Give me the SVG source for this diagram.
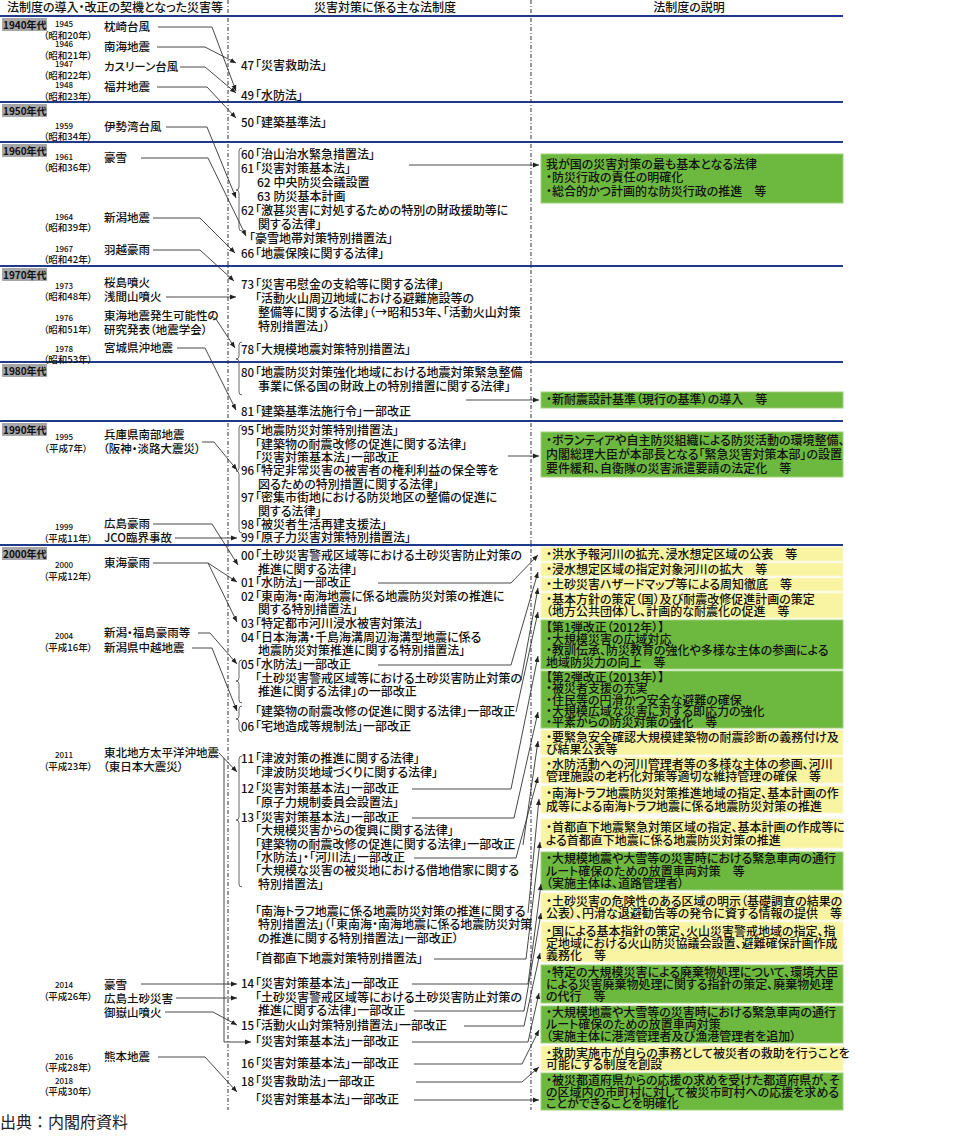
<svg xmlns="http://www.w3.org/2000/svg" width="963" height="1136" viewBox="0 0 963 1136">
<style>
text{font-family:"Noto Sans CJK JP","Noto Sans CJK SC",sans-serif;fill:#111;font-feature-settings:"palt";font-weight:500}
.h{font-size:12px;text-anchor:middle}
.n{font-size:11.5px}
.m{font-size:12px}
.num{font-size:11.5px}
.d{font-size:12px}
.yr{font-size:8px;text-anchor:middle}
.er{font-size:9.5px;text-anchor:middle}
.dec{font-size:10px;font-weight:bold}
.decbox{fill:#A6A6A6}
.hl{stroke:#1F3A8A;stroke-width:2}
.vd{stroke:#333;stroke-width:1;stroke-dasharray:4 2 1 2}
.g{fill:#6DB83F;stroke:#9FD27A;stroke-width:1}
.y{fill:#F9F4A1;stroke:#FBF8CC;stroke-width:1}
.br{fill:none;stroke:#555;stroke-width:0.9}
.c{fill:none;stroke:#333;stroke-width:0.9;marker-end:url(#ah)}
.src{font-size:16px;fill:#222;font-feature-settings:normal;font-weight:normal}
</style>
<defs>
<marker id="ah" viewBox="0 0 6 6" refX="6" refY="3" markerWidth="6" markerHeight="6" markerUnits="userSpaceOnUse" orient="auto"><path d="M0,0.5 L6,3 L0,5.5 z" fill="#222"/></marker>
</defs>
<rect width="963" height="1136" fill="#fff"/>
<g id="header">
<text class="h" x="115" y="12">法制度の導入・改正の契機となった災害等</text>
<text class="h" x="385" y="12">災害対策に係る主な法制度</text>
<text class="h" x="689" y="12">法制度の説明</text>
</g>
<g id="grid">
<line class="hl" x1="0" y1="16" x2="843" y2="16"/>
<line class="hl" x1="0" y1="102" x2="843" y2="102"/>
<line class="hl" x1="0" y1="142" x2="843" y2="142"/>
<line class="hl" x1="0" y1="266" x2="843" y2="266"/>
<line class="hl" x1="0" y1="362" x2="843" y2="362"/>
<line class="hl" x1="0" y1="421" x2="843" y2="421"/>
<line class="hl" x1="0" y1="545" x2="843" y2="545"/>
<line class="vd" x1="228" y1="0" x2="228" y2="1110"/>
<line class="vd" x1="531" y1="0" x2="531" y2="1110"/>
</g>
<g id="decades">
<g id="dec-1940"><rect class="decbox" x="2" y="18" width="45" height="13"/><text class="dec" x="3" y="28.5">1940年代</text></g>
<g id="dec-1950"><rect class="decbox" x="2" y="104" width="45" height="13"/><text class="dec" x="3" y="114.5">1950年代</text></g>
<g id="dec-1960"><rect class="decbox" x="2" y="144" width="45" height="13"/><text class="dec" x="3" y="154.5">1960年代</text></g>
<g id="dec-1970"><rect class="decbox" x="2" y="268" width="45" height="13"/><text class="dec" x="3" y="278.5">1970年代</text></g>
<g id="dec-1980"><rect class="decbox" x="2" y="364" width="45" height="13"/><text class="dec" x="3" y="374.5">1980年代</text></g>
<g id="dec-1990"><rect class="decbox" x="2" y="423" width="45" height="13"/><text class="dec" x="3" y="433.5">1990年代</text></g>
<g id="dec-2000"><rect class="decbox" x="2" y="547" width="45" height="13"/><text class="dec" x="3" y="557.5">2000年代</text></g>
</g>
<g id="years">
<text class="yr" x="64" y="27">1945</text><text class="er" x="68" y="39">（昭和20年）</text>
<text class="yr" x="64" y="47">1946</text><text class="er" x="68" y="59">（昭和21年）</text>
<text class="yr" x="64" y="67">1947</text><text class="er" x="68" y="79">（昭和22年）</text>
<text class="yr" x="64" y="88">1948</text><text class="er" x="68" y="100">（昭和23年）</text>
<text class="yr" x="64" y="129">1959</text><text class="er" x="68" y="140">（昭和34年）</text>
<text class="yr" x="64" y="160">1961</text><text class="er" x="68" y="171">（昭和36年）</text>
<text class="yr" x="64" y="220">1964</text><text class="er" x="68" y="231">（昭和39年）</text>
<text class="yr" x="64" y="252">1967</text><text class="er" x="68" y="263">（昭和42年）</text>
<text class="yr" x="64" y="289">1973</text><text class="er" x="68" y="300">（昭和48年）</text>
<text class="yr" x="64" y="321">1976</text><text class="er" x="68" y="333">（昭和51年）</text>
<text class="yr" x="64" y="352">1978</text><text class="er" x="68" y="363">（昭和53年）</text>
<text class="yr" x="64" y="440">1995</text><text class="er" x="66" y="452">（平成7年）</text>
<text class="yr" x="64" y="530">1999</text><text class="er" x="68" y="542">（平成11年）</text>
<text class="yr" x="64" y="568">2000</text><text class="er" x="68" y="580">（平成12年）</text>
<text class="yr" x="64" y="639">2004</text><text class="er" x="68" y="651">（平成16年）</text>
<text class="yr" x="64" y="758">2011</text><text class="er" x="68" y="770">（平成23年）</text>
<text class="yr" x="64" y="988">2014</text><text class="er" x="68" y="1000">（平成26年）</text>
<text class="yr" x="64" y="1060">2016</text><text class="er" x="68" y="1071">（平成28年）</text>
<text class="yr" x="64" y="1084">2018</text><text class="er" x="68" y="1095">（平成30年）</text>
</g>
<g id="disasters">
<g id="ev-makurazaki"><text class="n" x="104" y="31">枕崎台風</text></g>
<g id="ev-nankai"><text class="n" x="104" y="51">南海地震</text></g>
<g id="ev-kathleen"><text class="n" x="104" y="71">カスリーン台風</text></g>
<g id="ev-fukui"><text class="n" x="104" y="91">福井地震</text></g>
<g id="ev-isewan"><text class="n" x="104" y="131">伊勢湾台風</text></g>
<g id="ev-gosetsu1961"><text class="n" x="104" y="162">豪雪</text></g>
<g id="ev-niigata"><text class="n" x="104" y="222">新潟地震</text></g>
<g id="ev-uetsu"><text class="n" x="104" y="254">羽越豪雨</text></g>
<g id="ev-sakurajima"><text class="n" x="104" y="287">桜島噴火</text><text class="n" x="104" y="301">浅間山噴火</text></g>
<g id="ev-tokai"><text class="n" x="104" y="320">東海地震発生可能性の</text><text class="n" x="104" y="334">研究発表（地震学会）</text></g>
<g id="ev-miyagi"><text class="n" x="104" y="352">宮城県沖地震</text></g>
<g id="ev-hyogo"><text class="n" x="104" y="439">兵庫県南部地震</text><text class="n" x="103" y="453">（阪神・淡路大震災）</text></g>
<g id="ev-hiroshima1999"><text class="n" x="104" y="528">広島豪雨</text></g>
<g id="ev-jco"><text class="n" x="104" y="542">JCO臨界事故</text></g>
<g id="ev-tokaigou"><text class="n" x="104" y="567">東海豪雨</text></g>
<g id="ev-niigatafukushima"><text class="n" x="104" y="637">新潟・福島豪雨等</text></g>
<g id="ev-chuetsu"><text class="n" x="104" y="652">新潟県中越地震</text></g>
<g id="ev-tohoku"><text class="n" x="104" y="757">東北地方太平洋沖地震</text><text class="n" x="103" y="771">（東日本大震災）</text></g>
<g id="ev-gosetsu2014"><text class="n" x="104" y="989">豪雪</text></g>
<g id="ev-hiroshima2014"><text class="n" x="104" y="1003">広島土砂災害</text></g>
<g id="ev-ontake"><text class="n" x="104" y="1017">御嶽山噴火</text></g>
<g id="ev-kumamoto"><text class="n" x="104" y="1061">熊本地震</text></g>
</g>
<g id="braces">
<path class="br" d="M242 148 Q239 148 239 151 V187 Q239 190 236 190 Q239 190 239 193 V228 Q239 231 242 231"/>
<path class="br" d="M242 342 Q239 342 239 345 V356 Q239 359 236 359 Q239 359 239 362 V392 Q239 395 242 395"/>
<path class="br" d="M242 425 Q239 425 239 428 V468 Q239 471 236 471 Q239 471 239 474 V530 Q239 533 242 533"/>
<path class="br" d="M242 660 Q239 660 239 663 V678 Q239 681 236 681 Q239 681 239 684 V700 Q239 703 242 703"/>
<path class="br" d="M242 706 Q239 706 239 709 V716 Q239 719 236 719 Q239 719 239 722 V729 Q239 732 242 732"/>
<path class="br" d="M242 756 Q239 756 239 759 V817 Q239 820 236 820 Q239 820 239 823 V884 Q239 887 242 887"/>
</g>
<g id="laws">
<g id="law-1947"><text class="num" x="241" y="70">47</text><text class="m" x="255" y="70">「災害救助法」</text></g>
<g id="law-1949"><text class="num" x="241" y="100">49</text><text class="m" x="255" y="100">「水防法」</text></g>
<g id="law-1950"><text class="num" x="241" y="127">50</text><text class="m" x="255" y="127">「建築基準法」</text></g>
<g id="law-1960s">
<text class="num" x="241" y="159">60</text><text class="m" x="255" y="159">「治山治水緊急措置法」</text>
<text class="num" x="241" y="173">61</text><text class="m" x="255" y="173">「災害対策基本法」</text>
<text class="m" x="257" y="187">62 中央防災会議設置</text>
<text class="m" x="257" y="201">63 防災基本計画</text>
<text class="num" x="241" y="215">62</text><text class="m" x="255" y="215">「激甚災害に対処するための特別の財政援助等に</text>
<text class="m" x="258" y="229">関する法律」</text>
<text class="m" x="249" y="243">「豪雪地帯対策特別措置法」</text>
<text class="num" x="241" y="258">66</text><text class="m" x="255" y="258">「地震保険に関する法律」</text>
</g>
<g id="law-1970s">
<text class="num" x="241" y="289">73</text><text class="m" x="255" y="289">「災害弔慰金の支給等に関する法律」</text>
<text class="m" x="255" y="303">「活動火山周辺地域における避難施設等の</text>
<text class="m" x="258" y="317">整備等に関する法律」（→昭和53年、「活動火山対策</text>
<text class="m" x="258" y="331">特別措置法」）</text>
<text class="num" x="241" y="354">78</text><text class="m" x="255" y="354">「大規模地震対策特別措置法」</text>
</g>
<g id="law-1980s">
<text class="num" x="241" y="377">80</text><text class="m" x="255" y="377">「地震防災対策強化地域における地震対策緊急整備</text>
<text class="m" x="258" y="391">事業に係る国の財政上の特別措置に関する法律」</text>
<text class="num" x="241" y="416">81</text><text class="m" x="255" y="416">「建築基準法施行令」一部改正</text>
</g>
<g id="law-1990s">
<text class="num" x="241" y="435">95</text><text class="m" x="255" y="435">「地震防災対策特別措置法」</text>
<text class="m" x="255" y="449">「建築物の耐震改修の促進に関する法律」</text>
<text class="m" x="255" y="462">「災害対策基本法」一部改正</text>
<text class="num" x="241" y="475">96</text><text class="m" x="255" y="475">「特定非常災害の被害者の権利利益の保全等を</text>
<text class="m" x="258" y="489">図るための特別措置に関する法律」</text>
<text class="num" x="241" y="502">97</text><text class="m" x="255" y="502">「密集市街地における防災地区の整備の促進に</text>
<text class="m" x="258" y="516">関する法律」</text>
<text class="num" x="241" y="529">98</text><text class="m" x="255" y="529">「被災者生活再建支援法」</text>
<text class="num" x="241" y="542">99</text><text class="m" x="255" y="542">「原子力災害対策特別措置法」</text>
</g>
<g id="law-2000s">
<text class="num" x="241" y="560">00</text><text class="m" x="255" y="560">「土砂災害警戒区域等における土砂災害防止対策の</text>
<text class="m" x="258" y="574">推進に関する法律」</text>
<text class="num" x="241" y="587">01</text><text class="m" x="255" y="587">「水防法」一部改正</text>
<text class="num" x="241" y="601">02</text><text class="m" x="255" y="601">「東南海・南海地震に係る地震防災対策の推進に</text>
<text class="m" x="258" y="614">関する特別措置法」</text>
<text class="num" x="241" y="628">03</text><text class="m" x="255" y="628">「特定都市河川浸水被害対策法」</text>
<text class="num" x="241" y="642">04</text><text class="m" x="255" y="642">「日本海溝・千島海溝周辺海溝型地震に係る</text>
<text class="m" x="258" y="655">地震防災対策推進に関する特別措置法」</text>
<text class="num" x="241" y="669">05</text><text class="m" x="255" y="669">「水防法」一部改正</text>
<text class="m" x="255" y="683">「土砂災害警戒区域等における土砂災害防止対策の</text>
<text class="m" x="258" y="696">推進に関する法律」の一部改正</text>
<text class="m" x="255" y="716">「建築物の耐震改修の促進に関する法律」一部改正</text>
<text class="num" x="241" y="731">06</text><text class="m" x="255" y="731">「宅地造成等規制法」一部改正</text>
</g>
<g id="law-2010s">
<text class="num" x="241" y="763">11</text><text class="m" x="255" y="763">「津波対策の推進に関する法律」</text>
<text class="m" x="255" y="777">「津波防災地域づくりに関する法律」</text>
<text class="num" x="241" y="793">12</text><text class="m" x="255" y="793">「災害対策基本法」一部改正</text>
<text class="m" x="255" y="807">「原子力規制委員会設置法」</text>
<text class="num" x="241" y="822">13</text><text class="m" x="255" y="822">「災害対策基本法」一部改正</text>
<text class="m" x="255" y="835">「大規模災害からの復興に関する法律」</text>
<text class="m" x="255" y="849">「建築物の耐震改修の促進に関する法律」一部改正</text>
<text class="m" x="255" y="862">「水防法」・「河川法」一部改正</text>
<text class="m" x="255" y="875">「大規模な災害の被災地における借地借家に関する</text>
<text class="m" x="258" y="889">特別措置法」</text>
<text class="m" x="255" y="916">「南海トラフ地震に係る地震防災対策の推進に関する</text>
<text class="m" x="258" y="929">特別措置法」（「東南海・南海地震に係る地震防災対策</text>
<text class="m" x="258" y="943">の推進に関する特別措置法」一部改正）</text>
<text class="m" x="255" y="963">「首都直下地震対策特別措置法」</text>
<text class="num" x="241" y="988">14</text><text class="m" x="255" y="988">「災害対策基本法」一部改正</text>
<text class="m" x="255" y="1002">「土砂災害警戒区域等における土砂災害防止対策の</text>
<text class="m" x="258" y="1015">推進に関する法律」一部改正</text>
<text class="num" x="241" y="1030">15</text><text class="m" x="255" y="1030">「活動火山対策特別措置法」一部改正</text>
<text class="m" x="255" y="1046">「災害対策基本法」一部改正</text>
<text class="num" x="241" y="1068">16</text><text class="m" x="255" y="1068">「災害対策基本法」一部改正</text>
<text class="num" x="241" y="1086">18</text><text class="m" x="255" y="1086">「災害救助法」一部改正</text>
<text class="m" x="255" y="1104">「災害対策基本法」一部改正</text>
</g>
</g>
<g id="descriptions">
<g id="desc-1961"><rect class="g" x="541" y="154" width="302" height="49"/><text class="d" x="546" y="169">我が国の災害対策の最も基本となる法律</text><text class="d" x="546" y="182">・防災行政の責任の明確化</text><text class="d" x="546" y="196">・総合的かつ計画的な防災行政の推進　等</text></g>
<g id="desc-1981"><rect class="g" x="541" y="392" width="302" height="16"/><text class="d" x="546" y="404">・新耐震設計基準（現行の基準）の導入　等</text></g>
<g id="desc-1995"><rect class="g" x="541" y="432" width="302" height="45"/><text class="d" x="546" y="445">・ボランティアや自主防災組織による防災活動の環境整備、</text><text class="d" x="546" y="459">内閣総理大臣が本部長となる「緊急災害対策本部」の設置</text><text class="d" x="546" y="473">要件緩和、自衛隊の災害派遣要請の法定化　等</text></g>
<g id="desc-y1"><rect class="y" x="541" y="547" width="302" height="14"/><text class="d" x="546" y="558.5">・洪水予報河川の拡充、浸水想定区域の公表　等</text></g>
<g id="desc-y2"><rect class="y" x="541" y="563" width="302" height="13"/><text class="d" x="546" y="574">・浸水想定区域の指定対象河川の拡大　等</text></g>
<g id="desc-y3"><rect class="y" x="541" y="578" width="302" height="13"/><text class="d" x="546" y="588.5">・土砂災害ハザードマップ等による周知徹底　等</text></g>
<g id="desc-y4"><rect class="y" x="541" y="593" width="302" height="25"/><text class="d" x="546" y="604">・基本方針の策定（国）及び耐震改修促進計画の策定</text><text class="d" x="546" y="616">（地方公共団体）し、計画的な耐震化の促進　等</text></g>
<g id="desc-g5"><rect class="g" x="541" y="620" width="302" height="49"/><text class="d" x="546" y="632">【第1弾改正（2012年）】</text><text class="d" x="546" y="643.5">・大規模災害の広域対応</text><text class="d" x="546" y="655">・教訓伝承、防災教育の強化や多様な主体の参画による</text><text class="d" x="546" y="667">地域防災力の向上　等</text></g>
<g id="desc-g6"><rect class="g" x="541" y="671" width="302" height="57"/><text class="d" x="546" y="681.5">【第2弾改正（2013年）】</text><text class="d" x="546" y="693">・被災者支援の充実</text><text class="d" x="546" y="705">・住民等の円滑かつ安全な避難の確保</text><text class="d" x="546" y="716">・大規模広域な災害に対する即応力の強化</text><text class="d" x="546" y="727">・平素からの防災対策の強化　等</text></g>
<g id="desc-y7"><rect class="y" x="541" y="730" width="302" height="25"/><text class="d" x="546" y="742">・要緊急安全確認大規模建築物の耐震診断の義務付け及</text><text class="d" x="546" y="753.5">び結果公表等</text></g>
<g id="desc-y8"><rect class="y" x="541" y="757" width="302" height="26"/><text class="d" x="546" y="769">・水防活動への河川管理者等の多様な主体の参画、河川</text><text class="d" x="546" y="781">管理施設の老朽化対策等適切な維持管理の確保　等</text></g>
<g id="desc-y9"><rect class="y" x="541" y="786" width="302" height="27"/><text class="d" x="546" y="798">・南海トラフ地震防災対策推進地域の指定、基本計画の作</text><text class="d" x="546" y="811">成等による南海トラフ地震に係る地震防災対策の推進</text></g>
<g id="desc-y10"><rect class="y" x="541" y="819" width="302" height="29"/><text class="d" x="546" y="832">・首都直下地震緊急対策区域の指定、基本計画の作成等に</text><text class="d" x="546" y="845">よる首都直下地震に係る地震防災対策の推進</text></g>
<g id="desc-g11"><rect class="g" x="541" y="852" width="302" height="38"/><text class="d" x="546" y="863">・大規模地震や大雪等の災害時における緊急車両の通行</text><text class="d" x="546" y="876">ルート確保のための放置車両対策　等</text><text class="d" x="546" y="887.5">（実施主体は、道路管理者）</text></g>
<g id="desc-y12"><rect class="y" x="541" y="893" width="302" height="27"/><text class="d" x="546" y="906">・土砂災害の危険性のある区域の明示（基礎調査の結果の</text><text class="d" x="546" y="918">公表）、円滑な退避勧告等の発令に資する情報の提供　等</text></g>
<g id="desc-y13"><rect class="y" x="541" y="922" width="302" height="40"/><text class="d" x="546" y="936">・国による基本指針の策定、火山災害警戒地域の指定、指</text><text class="d" x="546" y="948">定地域における火山防災協議会設置、避難確保計画作成</text><text class="d" x="546" y="960">義務化　等</text></g>
<g id="desc-g14"><rect class="g" x="541" y="965" width="302" height="38"/><text class="d" x="546" y="977">・特定の大規模災害による廃棄物処理について、環境大臣</text><text class="d" x="546" y="989">による災害廃棄物処理に関する指針の策定、廃棄物処理</text><text class="d" x="546" y="1001">の代行　等</text></g>
<g id="desc-g15"><rect class="g" x="541" y="1006" width="302" height="37"/><text class="d" x="546" y="1017">・大規模地震や大雪等の災害時における緊急車両の通行</text><text class="d" x="546" y="1029">ルート確保のための放置車両対策</text><text class="d" x="546" y="1041">（実施主体に港湾管理者及び漁港管理者を追加）</text></g>
<g id="desc-y16"><rect class="y" x="541" y="1046" width="302" height="25"/><text class="d" x="546" y="1058">・救助実施市が自らの事務として被災者の救助を行うことを</text><text class="d" x="546" y="1069">可能にする制度を創設</text></g>
<g id="desc-g17"><rect class="g" x="541" y="1073" width="302" height="37"/><text class="d" x="546" y="1085">・被災都道府県からの応援の求めを受けた都道府県が、そ</text><text class="d" x="546" y="1097">の区域内の市町村に対して被災市町村への応援を求める</text><text class="d" x="546" y="1108">ことができることを明確化</text></g>
</g>
<g id="connectors">
<path class="c" d="M158 27 H212 L236 91"/>
<path class="c" d="M157 47 H205 L236 63"/>
<path class="c" d="M180 67 H205 L236 93"/>
<path class="c" d="M157 87 H207 L236 118"/>
<path class="c" d="M166 127 H207 L236 198"/>
<path class="c" d="M141 158 H208 L246 236"/>
<path class="c" d="M153 218 H200 L235 253"/>
<path class="c" d="M153 250 H200 L234 281"/>
<path class="c" d="M166 297 H236"/>
<path class="c" d="M210 316 L216 319 L235 348"/>
<path class="c" d="M177 348 H205 L236 410"/>
<path class="c" d="M202 442 H214 L237 470"/>
<path class="c" d="M153 524 H212 L238 565"/>
<path class="c" d="M175 538 H237"/>
<path class="c" d="M153 563 H208 L237 582"/>
<path class="c" d="M208 563 L237 622"/>
<path class="c" d="M198 633 H210 L237 664"/>
<path class="c" d="M192 648 H212 L237 711"/>
<path class="c" d="M219 753 L237 772"/>
<path class="c" d="M224 758 V1042 H251"/>
<path class="c" d="M141 984 H237"/>
<path class="c" d="M176 998 H237"/>
<path class="c" d="M165 1012 H213 L237 1025"/>
<path class="c" d="M158 1057 H205 L237 1092"/>
<path class="c" d="M409 165 H539"/>
<path class="c" d="M466 400 H539"/>
<path class="c" d="M508 456 H539"/>
<path class="c" d="M378 583 H511 L538 555"/>
<path class="c" d="M378 665 H511 L538 572"/>
<path class="c" d="M521 680 L538 588"/>
<path class="c" d="M516 712 L538 612"/>
<path class="c" d="M412 789 H511 L538 656"/>
<path class="c" d="M412 818 H514 L538 712"/>
<path class="c" d="M523 845 L538 741"/>
<path class="c" d="M414 858 H516 L538 777"/>
<path class="c" d="M528 913 L539 799"/>
<path class="c" d="M434 959 H526 L540 842"/>
<path class="c" d="M412 984 H528 L541 884"/>
<path class="c" d="M414 1011 H524 L541 913"/>
<path class="c" d="M464 1026 H524 L540 953"/>
<path class="c" d="M412 1042 H528 L539 993"/>
<path class="c" d="M414 1064 H522 L539 1030"/>
<path class="c" d="M416 1082 H522 L539 1067"/>
<path class="c" d="M414 1100 H539"/>
</g>
<g id="source"><text class="src" x="0" y="1128">出典：内閣府資料</text></g>
</svg>
